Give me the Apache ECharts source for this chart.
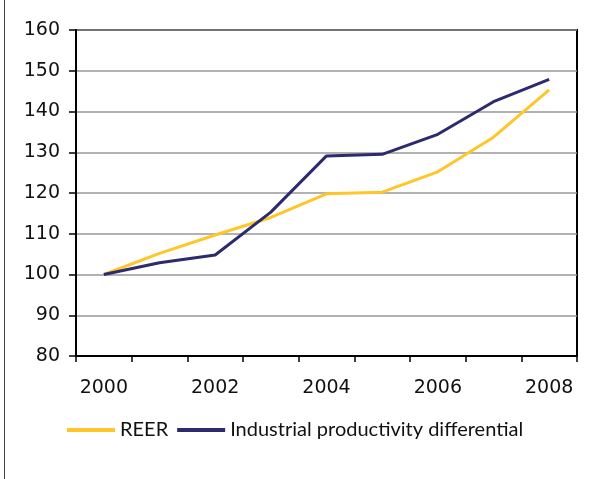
<!DOCTYPE html>
<html>
<head>
<meta charset="utf-8">
<script src="https://cdn.jsdelivr.net/npm/echarts@6/dist/echarts.min.js"></script>
<style>
  html, body { margin: 0; padding: 0; background: #fff; }
  #chart { width: 603px; height: 479px; }
</style>
</head>
<body>
<div id="chart"></div>
<script>
// Years on the horizontal axis
const years = ['2000', '2001', '2002', '2003', '2004', '2005', '2006', '2007', '2008'];
// Real effective exchange rate index (2000 = 100)
const reer = [100, 105.2, 109.7, 114.0, 119.8, 120.2, 125.2, 133.7, 145.3];
// Industrial productivity differential index (2000 = 100)
const productivity = [100, 102.9, 104.8, 115.3, 129.1, 129.5, 134.4, 142.4, 147.9];
// Value axis range
const yMin = 80, yMax = 160, yStep = 10;

const NUM_FONT = 'DejaVu Sans';
const TEXT_FONT = 'Lato';
const chart = echarts.init(document.getElementById('chart'), null, { renderer: 'canvas' });

chart.setOption({
  animation: false,
  backgroundColor: '#ffffff',
  textStyle: { fontFamily: TEXT_FONT },
  grid: {
    left: 76, right: 26, top: 30, bottom: 123,
    show: true, borderColor: '#000', borderWidth: 2, backgroundColor: 'transparent'
  },
  legend: {
    left: 67, top: 420, padding: 0,
    itemWidth: 48, itemHeight: 4, itemGap: 9,
    icon: 'rect',
    textStyle: { fontFamily: TEXT_FONT, fontSize: 20, color: '#111' },
    data: ['REER', 'Industrial productivity differential']
  },
  xAxis: {
    type: 'category',
    data: years,
    boundaryGap: true,
    axisLine: { lineStyle: { color: '#000', width: 2 } },
    axisTick: { show: true, interval: 0, length: 6, lineStyle: { color: '#000', width: 1.5 } },
    axisLabel: { interval: 1, fontSize: 19, color: '#111', margin: 23, fontFamily: NUM_FONT },
    splitLine: { show: false }
  },
  yAxis: {
    type: 'value',
    min: yMin, max: yMax, interval: yStep,
    axisLine: { show: true, lineStyle: { color: '#000', width: 2 } },
    axisTick: { show: true, length: 7, lineStyle: { color: '#000', width: 1.5 } },
    axisLabel: { fontSize: 19, color: '#111', margin: 16, fontFamily: NUM_FONT },
    splitLine: { show: true, lineStyle: { color: '#999', width: 1.5 } }
  },
  series: [
    {
      name: 'REER', type: 'line', data: reer,
      symbol: 'none', z: 3,
      lineStyle: { color: '#FFC62A', width: 3 },
      itemStyle: { color: '#FFC62A' }
    },
    {
      name: 'Industrial productivity differential', type: 'line', data: productivity,
      symbol: 'none', z: 4,
      lineStyle: { color: '#2D2A6E', width: 3 },
      itemStyle: { color: '#2D2A6E' }
    }
  ],
  graphic: [
    {
      type: 'line', silent: true,
      shape: { x1: 4.5, y1: 0, x2: 4.5, y2: 479 },
      style: { stroke: '#444', lineWidth: 1 }
    }
  ]
});
</script>
</body>
</html>
